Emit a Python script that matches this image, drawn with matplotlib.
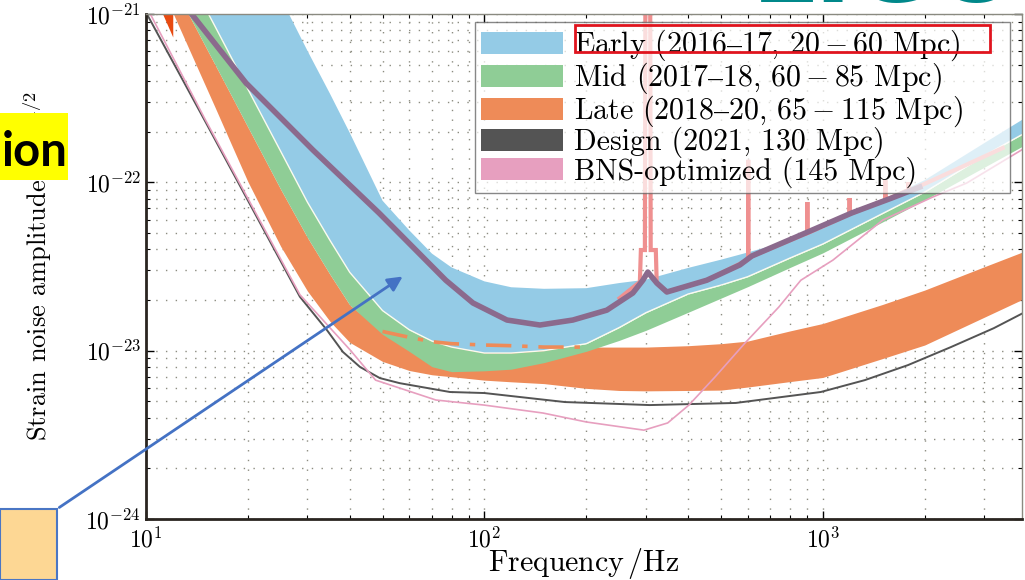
import numpy as np
import matplotlib.pyplot as plt
from matplotlib import ticker
from matplotlib.patches import Patch, Rectangle, FancyArrowPatch

plt.rcParams['font.family'] = ['cmr10', 'DejaVu Serif']
plt.rcParams['mathtext.fontset'] = 'cm'
plt.rcParams['axes.formatter.use_mathtext'] = True

# frequency grid (Hz) for the three bands
freq = [10, 12, 14, 16, 18, 20, 25, 30, 35, 40, 50, 60, 70, 80, 100, 120, 150,
        200, 250, 300, 400, 500, 600, 800, 1000, 1500, 2000, 3000, 4000]
# Early band, 20 Mpc edge (upper)
early_hi = [4e-20, 2e-20, 1e-20, 6e-21, 3.5e-21, 2.2e-21, 1.25e-21, 6.05e-22, 3.35e-22,
            1.97e-22, 7.78e-23, 5.18e-23, 3.77e-23, 3.12e-23, 2.58e-23, 2.38e-23, 2.33e-23,
            2.35e-23, 2.52e-23, 2.64e-23, 3.10e-23, 3.47e-23, 3.83e-23, 4.51e-23, 5.32e-23,
            7.85e-23, 1.03e-22, 1.71e-22, 2.44e-22]
# 60 Mpc edge (Early lower / Mid upper)
mpc60 = [5.1e-21, 2.5e-21, 1.40e-21, 8.44e-22, 5.37e-22, 3.58e-22, 1.53e-22, 7.62e-23, 4.51e-23,
         2.92e-23, 1.73e-23, 1.33e-23, 1.14e-23, 1.05e-23, 9.68e-24, 9.68e-24, 1.0e-23,
         1.10e-23, 1.37e-23, 1.68e-23, 2.17e-23, 2.45e-23, 2.75e-23, 3.55e-23, 4.30e-23,
         6.52e-23, 8.75e-23, 1.44e-22, 1.99e-22]
# 85 Mpc edge (Mid lower)
mpc85 = [3.0e-21, 1.50e-21, 8.32e-22, 5.0e-22, 3.19e-22, 2.13e-22, 9.1e-23, 4.70e-23, 2.83e-23,
         1.87e-23, 1.25e-23, 9.89e-24, 8.03e-24, 7.5e-24, 7.59e-24, 7.76e-24, 8.49e-24,
         9.91e-24, 1.15e-23, 1.32e-23, 1.69e-23, 2.05e-23, 2.40e-23, 3.12e-23, 3.81e-23,
         5.81e-23, 7.85e-23, 1.23e-22, 1.69e-22]
# Late band edges (65 Mpc upper, 115 Mpc lower)
late_hi = [3.0e-21, 1.50e-21, 8.32e-22, 5.0e-22, 3.19e-22, 2.13e-22, 9.1e-23, 4.70e-23, 2.83e-23,
           1.87e-23, 1.3e-23, 1.2e-23, 1.13e-23, 1.10e-23, 1.08e-23, 1.07e-23, 1.05e-23,
           1.05e-23, 1.05e-23, 1.05e-23, 1.07e-23, 1.10e-23, 1.14e-23, 1.31e-23, 1.45e-23,
           1.88e-23, 2.29e-23, 3.15e-23, 3.94e-23]
late_lo = [2.33e-21, 1.02e-21, 5.09e-22, 2.79e-22, 1.63e-22, 1.01e-22, 4.17e-23, 2.26e-23, 1.49e-23,
           1.12e-23, 8.63e-24, 7.62e-24, 7.19e-24, 7.0e-24, 6.68e-24, 6.53e-24, 6.37e-24,
           5.97e-24, 5.8e-24, 5.77e-24, 5.8e-24, 5.83e-24, 6.08e-24, 6.55e-24, 6.93e-24,
           8.97e-24, 1.08e-23, 1.58e-23, 2.07e-23]
wedge_f = [11.2, 12.0]
wedge_lo = [1.0e-21, 7.3e-22]
wedge_hi = [1.3e-21, 1.3e-21]

design_f = [10.1, 14.9, 28.5, 34.3, 38.2, 42.9, 49.1, 56.2, 79.1, 100, 173, 308, 553, 986,
            1330, 1783, 2390, 3200, 3900]
design_h = [9.86e-22, 2.34e-22, 2.09e-23, 1.32e-23, 9.82e-24, 8.0e-24, 6.87e-24, 6.41e-24,
            5.68e-24, 5.6e-24, 4.95e-24, 4.75e-24, 4.89e-24, 5.68e-24, 6.68e-24, 8.2e-24,
            1.05e-23, 1.36e-23, 1.67e-23]

bns_f = [10.3, 14.9, 28.5, 40.1, 47.7, 71.9, 99.8, 149, 200, 296, 348, 402, 480, 589,
         742, 861, 1071, 1504, 2113, 2661, 3873]
bns_h = [1.0e-21, 2.4e-22, 2.15e-23, 1.01e-23, 6.68e-24, 5.09e-24, 4.75e-24, 4.26e-24,
         3.77e-24, 3.37e-24, 3.72e-24, 4.75e-24, 6.97e-24, 1.11e-23, 1.82e-23, 2.62e-23,
         3.45e-23, 5.97e-23, 8.18e-23, 9.9e-23, 1.56e-22]

o1_f = [13.0, 19.75, 31.1, 48.8, 76.9, 92.5, 116.6, 145.9, 182.5, 230, 274.6, 293.9, 304,
        323.3, 346, 454, 568.6, 617, 903, 1218, 1599, 1934]
o1_h = [1.13e-21, 3.89e-22, 1.56e-22, 6.58e-23, 2.62e-23, 1.92e-23, 1.52e-23, 1.42e-23,
        1.52e-23, 1.74e-23, 2.20e-23, 2.62e-23, 2.93e-23, 2.52e-23, 2.23e-23, 2.62e-23,
        3.23e-23, 3.65e-23, 5.07e-23, 6.58e-23, 8.07e-23, 9.37e-23]

line_f = [251, 288, 290, 298, 299, 309, 310, 321, 323, 346, 454, 590, 602, 602, 602, 620,
          885, 900, 900, 900, 916, 1186, 1200, 1200, 1200, 1227, 1504, 1530, 1530, 1530, 1556,
          1759, 1790, 1790, 1790, 1820, 2113, 2540, 3400]
line_h = [2.05e-23, 2.56e-23, 3.96e-23, 3.96e-23, 1.2e-21, 1.2e-21, 3.96e-23, 3.96e-23,
          2.52e-23, 2.23e-23, 2.62e-23, 3.40e-23, 3.55e-23, 1.36e-22, 3.55e-23, 3.65e-23,
          4.93e-23, 5.0e-23, 7.64e-23, 5.0e-23, 5.07e-23, 6.4e-23, 6.5e-23, 8.07e-23, 6.5e-23,
          6.58e-23, 7.75e-23, 7.85e-23, 1.03e-22, 7.85e-23, 7.96e-23, 8.87e-23, 8.95e-23,
          1.0e-22, 8.95e-23, 8.99e-23, 1.03e-22, 1.22e-22, 1.60e-22]

labels = ['Early (2016$–$17, $20-60$ Mpc)', 'Mid (2017$–$18, $60-85$ Mpc)',
          'Late (2018$–$20, $65-115$ Mpc)', 'Design (2021, 130 Mpc)', 'BNS-optimized (145 Mpc)']
c_early, c_mid, c_late = '#94cbe6', '#8fcd96', '#ee8b58'
c_design, c_bns = '#545454', '#e79fbf'

fig = plt.figure(figsize=(10.25, 5.8), dpi=100)
ax = fig.add_axes([0.1424, 0.1052, 0.8546, 0.8707])
ax.set_xscale('log')
ax.set_yscale('log')
ax.set_xlim(10, 3875)
ax.set_ylim(1e-24, 1e-21)

ax.fill_between(freq, late_lo, late_hi, color=c_late, lw=0)
ax.fill_between(wedge_f, wedge_lo, wedge_hi, color='#e84a10', lw=0)
ax.fill_between(freq, mpc85, mpc60, color=c_mid, lw=0)
ax.fill_between(freq, mpc60, early_hi, color=c_early, lw=0)
ax.plot(freq, mpc60, color='#fbfbf0', lw=1.0)

freq_a = np.array(freq)
mid = (freq_a >= 45) & (freq_a <= 200)
ax.plot(freq_a[mid], np.array(late_hi)[mid], color=c_late, lw=2.6,
        dashes=(7, 3, 1.5, 3))

ax.plot(line_f, line_h, color='#ef9090', lw=3.0, solid_joinstyle='miter')
ax.plot(o1_f, o1_h, color='#8b6a8d', lw=4.0)
ax.plot(design_f, design_h, color=c_design, lw=1.4)
ax.plot(bns_f, bns_h, color=c_bns, lw=1.2)

ax.xaxis.set_major_locator(ticker.LogLocator(base=10))
ax.yaxis.set_major_locator(ticker.LogLocator(base=10))
ax.xaxis.set_minor_locator(ticker.LogLocator(base=10, subs=np.arange(2, 10)))
ax.yaxis.set_minor_locator(ticker.LogLocator(base=10, subs=np.arange(2, 10)))
fmt = ticker.FuncFormatter(lambda v, p: r'$10^{%d}$' % round(np.log10(v)))
ax.xaxis.set_major_formatter(fmt)
ax.yaxis.set_major_formatter(fmt)
ax.xaxis.set_minor_formatter(ticker.NullFormatter())
ax.yaxis.set_minor_formatter(ticker.NullFormatter())
ax.tick_params(which='both', direction='in', top=True, right=True, labelsize=17)
ax.tick_params(axis='x', which='major', pad=6)
ax.tick_params(which='major', length=6, width=1)
ax.tick_params(which='minor', length=3, width=0.8)

ax.set_axisbelow(True)
ax.grid(True, which='both', ls=(0, (1, 6)), lw=1.0, color='#8c8c80')
for s in ['left', 'bottom']:
    ax.spines[s].set_linewidth(2)
    ax.spines[s].set_color('#2a2520')
for s in ['top', 'right']:
    ax.spines[s].set_linewidth(1)
    ax.spines[s].set_color('#8a8a80')

ax.set_xlabel('Frequency$\\,$/Hz', fontsize=21.5)
ax.xaxis.set_label_coords(0.5, -0.054)
ax.set_ylabel('Strain noise amplitude/Hz$^{-1/2}$', fontsize=19)
ax.yaxis.set_label_coords(-0.1027, 0.5)

handles = [Patch(facecolor=c, edgecolor='none')
           for c in [c_early, c_mid, c_late, c_design, c_bns]]
leg = ax.legend(handles, labels, loc='upper left', mode='expand',
                bbox_to_anchor=(0.3756, 0.651, 0.6107, 0.333),
                fontsize=21.5, fancybox=False, edgecolor='#555555', framealpha=0.7,
                handlelength=2.75, handleheight=0.75, labelspacing=-0.08, borderpad=0.2,
                handletextpad=0.38, borderaxespad=0)
leg.get_frame().set_linewidth(1.0)

# slide overlays
fig.add_artist(Rectangle((0, 0.6897), 0.0663, 0.1155, transform=fig.transFigure,
                         facecolor='#ffff00', edgecolor='none', zorder=5))
fig.text(0.002, 0.7375, 'ion', family='Lato', weight='bold', fontsize=34,
         va='center', ha='left', zorder=6)
fig.add_artist(Rectangle((0, 0), 0.0556, 0.1224, transform=fig.transFigure,
                         facecolor='#fdd794', edgecolor='#4a76c4', lw=1.5, zorder=5))
fig.add_artist(FancyArrowPatch((0.0556, 0.1224), (0.3951, 0.5259), transform=fig.transFigure,
                               arrowstyle='-|>', mutation_scale=22, color='#4472c4',
                               lw=2, zorder=6))
fig.add_artist(Rectangle((0.561, 0.9103), 0.405, 0.0466, transform=fig.transFigure,
                         fill=False, edgecolor='#e0141e', lw=2, zorder=7))
fig.text(0.995, 0.996, 'LIGO', ha='right', va='baseline', fontsize=72, weight='bold',
         color='#00888a', family='DejaVu Sans', zorder=6)

fig.savefig('out.png', dpi=100)
